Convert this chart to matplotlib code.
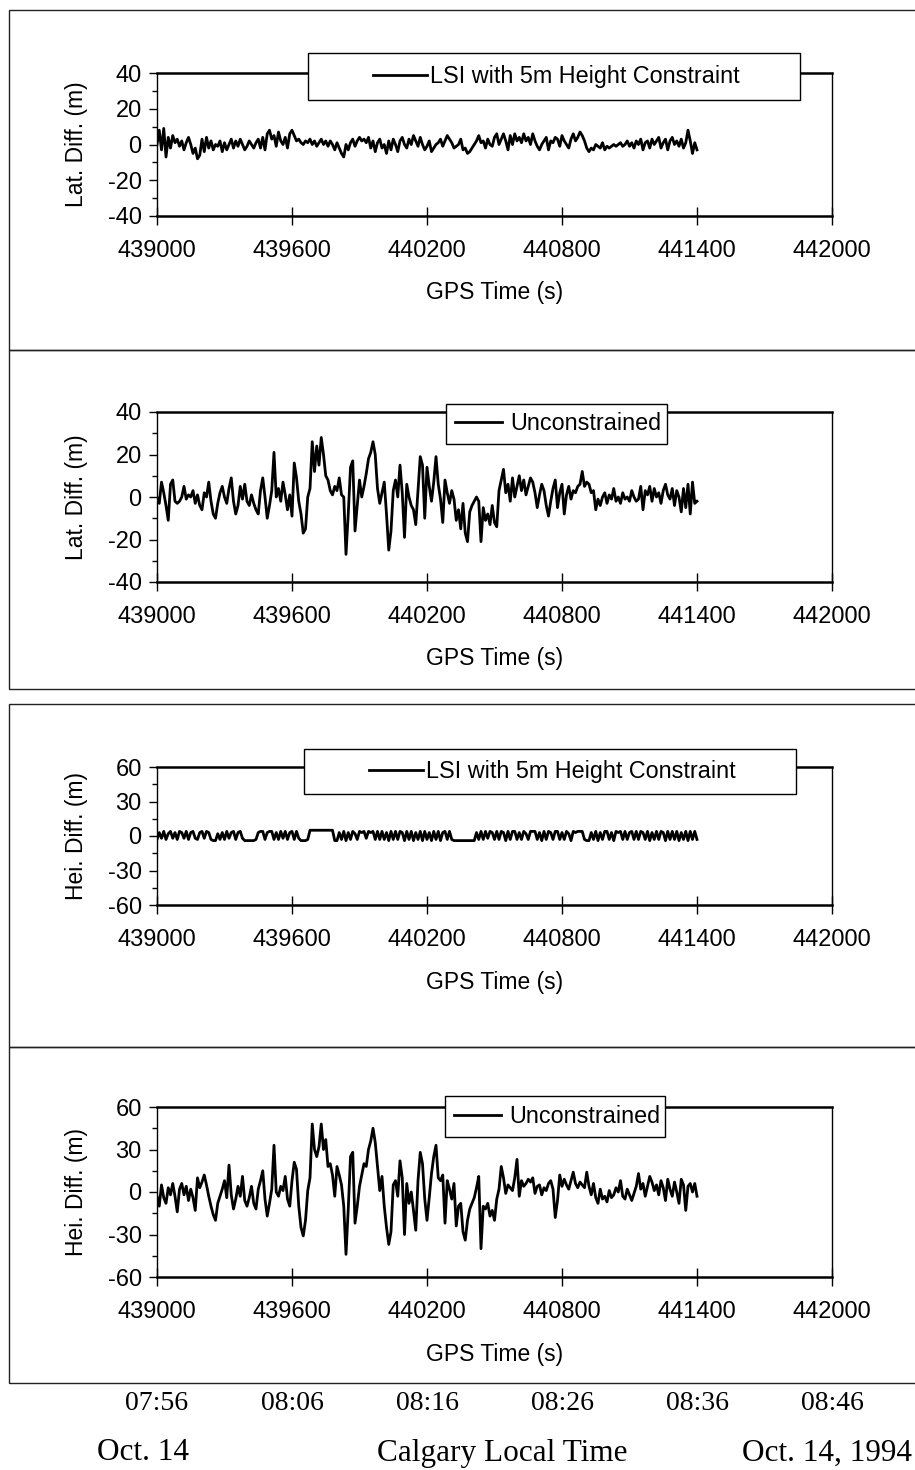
import numpy as np
import matplotlib.pyplot as plt
from matplotlib.patches import Rectangle
import matplotlib.transforms as mtransforms

plt.rcParams['font.family'] = ['Liberation Sans', 'DejaVu Sans']
plt.rcParams['axes.unicode_minus'] = False

W, H = 915, 1470

# GPS time span of the samples (10 s spacing) and the axis ticks
t_start, t_end = 439000, 441400
xticks = [439000, 439600, 440200, 440800, 441400, 442000]

# latitude difference, LSI with 5 m height constraint (m)
lat_con = [0, 8, -3, 9, -7, 4, -2, 5, 1, 3, -1, 2, -3, 1, 4, 0, -5, -2, -8, -6,
           3, -4, 4, -2, 2, -3, 0, -1, 2, -4, 1, -3, 0, 3, -2, 2, -1, 3, 0, -3,
           -1, 2, 0, -2, 1, 3, -2, 4, -3, 6, 8, 3, 5, -1, 7, 2, 0, 4, -2, 6,
           8, 5, 2, 3, 1, 0, 2, 1, 3, 0, 2, -1, 1, 3, 0, 2, -1, 2, 0, -3,
           1, -2, -5, -7, 0, -3, 1, 3, -1, 2, 4, 2, 3, 1, 4, -2, 2, -4, 1, 3,
           -2, 0, -5, 2, -3, 3, 0, -4, 2, 4, 0, -2, 3, 0, 5, 2, -1, 4, 0, -3,
           -1, 2, -4, -2, 0, 1, 3, -1, 2, 5, 3, 1, -2, -1, 0, 3, -3, -2, -5, -4,
           -2, 0, 2, 5, 1, 2, -2, 3, 0, -1, 4, 6, 0, 3, 6, 2, -3, 5, 0, 6,
           2, 4, 1, 6, 2, 4, 0, 6, 2, -1, -3, 0, 2, 4, -3, 2, 1, 4, 3, -1,
           5, 2, 0, -2, 3, 6, 2, 4, 7, 5, 2, -2, -4, -2, -3, 0, -1, -2, 1, -3,
           -1, -2, -1, 0, -1, 0, 1, -1, 0, 2, -1, 1, -2, 2, 0, 3, -3, 1, 2, -2,
           3, 0, 2, 4, -2, 1, 3, -3, 2, 4, 0, 2, -1, 3, -2, 1, 8, 2, -5, 1,
           -3]

# latitude difference, unconstrained (m)
lat_unc = [0, -3, 7, 2, -4, -11, 6, 8, -2, -3, -2, 0, 5, -1, 1, 0, 3, -3, 1, -4,
           -6, 2, 0, 7, -2, -8, -10, -3, 2, 5, 0, -3, 4, 9, -2, -8, -4, 5, -1, 6,
           -2, -4, 1, -3, -6, -8, 3, 9, 0, -10, -4, 3, 21, 0, 4, -2, 7, 1, -6, 1,
           -9, 16, 9, -2, -8, -17, -15, 0, 4, 26, 12, 24, 15, 28, 20, 10, 8, 3, 1, 5,
           3, 9, 1, 0, -27, -8, 14, 17, -16, -4, 8, 0, 5, 11, 18, 21, 26, 20, 4, -3,
           2, 7, -8, -25, -16, 3, 8, 0, 15, 2, -19, 6, 0, -4, -6, -13, 3, 19, 15, -10,
           14, 5, -2, 7, 19, 6, -1, -12, 8, 2, -3, 3, -1, -11, -6, -15, -3, -17, -21, -7,
           -4, -2, 0, -2, -21, -5, -11, -8, -13, -4, -12, -14, 3, 8, 13, 2, 6, -2, 9, 0,
           5, 10, 3, 8, 1, 5, 9, 7, 2, -5, 1, 6, 3, -4, -9, -2, 4, 8, -5, 2,
           6, -8, 1, 5, -1, 3, 2, 5, 6, 12, 5, 7, 6, 2, 3, -6, -1, -4, 0, 2,
           -3, 1, -1, 4, -2, 0, -3, 2, -1, 0, -2, 3, 0, -2, -1, 5, -6, 3, 1, 5,
           -2, 4, 0, 2, -3, 3, 6, 1, -1, 4, -4, 3, 0, -7, 4, -5, 6, -8, 7, -3,
           -2]

# height difference, LSI with 5 m height constraint (m)
hei_con = ([-3, 3, -2, 4, -3, 2, 4, -2, 3, -3, 4, 3, -2, 4, -3, 3, 4, -2, -3, 3,
            4, -2, 4, 3, -3, -4, -4, 2, -3, 3, -3, 4, -2, 3, 4, -3, 3, 4, -2, -4,
            -4, -4, -4, -4, -3, 3, 4, 4, -3, 3, 4, 4, -3, 3, -3, 4, -2, 4, -3, 3,
            4, -3, 4, -2, -4, -4, -4, -3, 5, 5, 5, 5, 5, 5, 5, 5, 5, 5, 5, -4,
            -4, 3, -3, 4, -4, 3, -3, 4, 2, -3, 4, 3, 4, -2, 4, 3, 4, -3, 4, -3,
            4, -3, 3, -4, 4, -3, 4, -3, 4, 3, -4, 4, -3, 4, -4, 3, -3, 4, -4, 4,
            -3, 3, -4, 4, -3, 4, -4, 3, 4, -3, 4, -3, -4, -4, -4, -4, -4, -4, -4, -4,
            -4, -4]
           + [3, -3, 4, -3, 4, -2, 4, 3, -3, 4, -3, 4, 3, -4, 4, -3, 4, 4, -3, 3,
              -3, 4, 2, -3, 4, 4, 4, -3, 3, -4, 4, -3, 4, 3, -3, 4, 4, -3, 3, -3,
              4, 2, -4, 4, 3, 4, 4, 4, -3, -4, -4, 3, -3, 4, -4, 3, -3, 4, 4, -3,
              3, -4, 4, 3, 4, -3, 4, -3, 3, 4, -3, 4, -3, 4, 3, -3, 4, -4, 3, -3,
              4, -3, 4, 3, -4, 4, -3, 4, -3, 4, -4, 3, -3, 4, -4, 4, -3, 4, -3])

# height difference, unconstrained (m)
hei_unc = [-3, -10, 5, -4, -8, 3, -2, 6, -3, -14, 2, 6, -2, 4, -6, 2, -4, -13, 10, 3,
           7, 12, 5, -3, -10, -16, -20, -8, -3, 2, 8, -4, 19, -2, -12, -5, 4, -3, 11, -6,
           -10, -4, 4, -8, -12, 2, 8, 15, -5, -17, -8, 2, 33, 0, -3, 4, 1, 11, -5, -10,
           8, 21, 16, -10, -25, -31, -20, 1, 10, 48, 30, 25, 32, 48, 30, 37, 18, 20, 12, -3,
           18, 12, 5, -10, -44, -12, 25, 28, -22, -10, 4, 12, 20, 18, 30, 36, 45, 35, 18, 1,
           11, -10, -25, -37, -28, 5, 8, -3, 22, 10, -30, 6, -8, 0, -13, -27, 8, 28, 20, -5,
           -20, -4, 13, 25, 33, 10, 8, 12, -22, 8, 2, -5, 6, -24, -10, -8, -28, -34, -20, -12,
           -8, -4, 3, 11, -40, -10, -12, -8, -17, -13, -20, -5, 2, 18, 10, -1, 5, 3, 1, 10,
           23, -3, 8, 4, 6, 9, 7, 10, -1, 4, 5, -2, 3, 1, 6, 8, 2, -18, -6, 12,
           4, 9, 5, 2, 8, 14, 6, 3, 7, 5, 3, 14, 4, -2, 6, -4, -8, 2, -5, -3,
           -7, 1, -4, -2, 3, 0, 8, -3, -5, 2, -2, -6, -1, 4, 13, 2, 6, -3, 4, 11,
           7, 1, 5, -2, 8, 3, -6, 9, 2, -3, 7, 0, -8, 9, 5, -13, 4, 6, 0, 6,
           -3]

bottom_times = ['07:56', '08:06', '08:16', '08:26', '08:36', '08:46']

fig = plt.figure(figsize=(W / 100, H / 100), dpi=100)


def fx(px):
    return px / W


def fy(py):
    return 1 - py / H


def panel(top, bottom, values, ylabel, ylim, ystep, label, lbox, handle_x, hlen, tpad):
    ax = fig.add_axes([fx(157), fy(bottom), fx(832) - fx(157), (bottom - top) / H])
    t = np.linspace(t_start, t_end, len(values))
    line, = ax.plot(t, values, color='black', lw=2.0, label=label)
    ax.set_xlim(439000, 442000)
    ax.set_ylim(*ylim)
    ax.set_xticks(xticks)
    ax.set_yticks(np.arange(ylim[0], ylim[1] + 1, ystep))
    ax.set_yticks(np.arange(ylim[0], ylim[1] + 1, ystep / 2), minor=True)
    ax.tick_params(axis='x', direction='inout', length=13, width=1, pad=11, labelsize=17)
    ax.tick_params(axis='y', which='major', direction='out', length=6, width=1, pad=5, labelsize=17)
    ax.tick_params(axis='y', which='minor', direction='out', length=3.5, width=1)
    for s in ['top', 'bottom']:
        ax.spines[s].set_linewidth(1.8)
    for s in ['left', 'right']:
        ax.spines[s].set_linewidth(1.0)
    ax.set_xlabel('GPS Time (s)', fontsize=16.5)
    ax.xaxis.label.set_va('center')
    ax.xaxis.set_label_coords(0.5, -77 / (bottom - top))
    ax.set_ylabel(ylabel, fontsize=16.5)
    ax.yaxis.label.set_va('center')
    ax.yaxis.set_label_coords(-81 / 675, 0.5)

    x0, x1, y0, y1 = lbox
    fig.add_artist(Rectangle((fx(x0), fy(y1)), fx(x1) - fx(x0), (y1 - y0) / H,
                             transform=fig.transFigure, facecolor='white',
                             edgecolor='black', lw=1.0, zorder=4))
    leg = fig.legend(handles=[line], loc='center left', frameon=False,
                     bbox_to_anchor=(fx(handle_x), fy((y0 + y1) / 2)),
                     borderpad=0, borderaxespad=0, handlelength=hlen,
                     handletextpad=tpad, fontsize=16.8)
    leg.set_zorder(5)
    return ax


ax1 = panel(73, 216, lat_con, 'Lat. Diff. (m)', (-40, 40), 20,
            'LSI with 5m Height Constraint', (308, 800, 53, 100), 373, 2.3, 0.15)
ax2 = panel(412, 582, lat_unc, 'Lat. Diff. (m)', (-40, 40), 20,
            'Unconstrained', (446, 667, 404, 444), 455, 2.0, 0.35)
ax3 = panel(767, 905, hei_con, 'Hei. Diff. (m)', (-60, 60), 30,
            'LSI with 5m Height Constraint', (304, 796, 749, 794), 369, 2.3, 0.15)
ax4 = panel(1107, 1277, hei_unc, 'Hei. Diff. (m)', (-60, 60), 30,
            'Unconstrained', (445, 665, 1096, 1137), 454, 2.0, 0.35)

# outer frames around each chart
for top, bottom in [(10, 350), (350, 689), (704, 1047), (1047, 1383)]:
    fig.add_artist(Rectangle((fx(9), fy(bottom)), fx(1000), (bottom - top) / H,
                             transform=fig.transFigure, facecolor='none',
                             edgecolor='#222222', lw=1.0, zorder=1))

# local time labels under the last chart
trans = mtransforms.blended_transform_factory(ax4.transData, fig.transFigure)
for xt, lab in zip(xticks, bottom_times):
    fig.text(xt, fy(1403), lab, transform=trans, ha='center', va='center',
             family='Liberation Serif', fontsize=20)

fig.text(fx(143), fy(1453), 'Oct. 14', ha='center', va='center',
         family='Liberation Serif', fontsize=22.5)
fig.text(fx(502), fy(1453), 'Calgary Local Time', ha='center', va='center',
         family='Liberation Serif', fontsize=22.5)
fig.text(fx(912), fy(1453), 'Oct. 14, 1994', ha='right', va='center',
         family='Liberation Serif', fontsize=22.5)

fig.savefig('out.png', dpi=100)
